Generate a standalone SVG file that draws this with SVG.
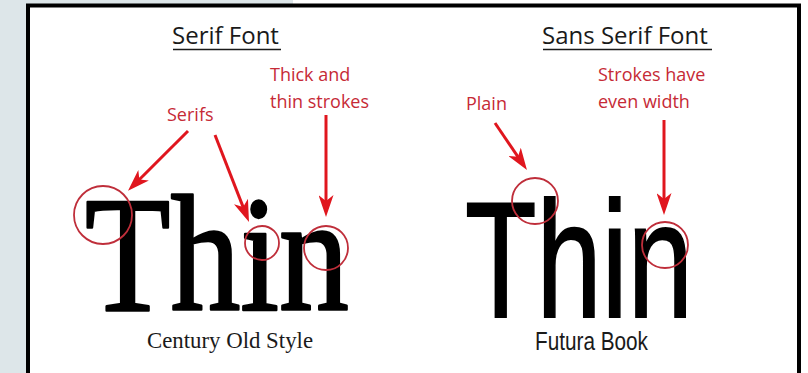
<svg xmlns="http://www.w3.org/2000/svg" width="808" height="373" viewBox="0 0 808 373">
  <style>
    .head { font-family: "Open Sans", "Liberation Sans", sans-serif; font-size: 24px; fill: #1a1a1a; }
    .lbl { font-family: "Open Sans", "Liberation Sans", sans-serif; font-size: 18px; fill: #c62a36; }
    .ring { fill: none; stroke: #bf2e3a; stroke-width: 1.8; }
    .arr { fill: none; stroke: #e0161e; stroke-width: 3; marker-end: url(#head); }
    .uline { stroke: #1a1a1a; stroke-width: 1.6; }
  </style>
  <defs>
    <marker id="head" viewBox="0 0 22 15" refX="13" refY="7.5" markerWidth="22" markerHeight="15" markerUnits="userSpaceOnUse" orient="auto">
      <path d="M0,0 L22,7.5 L0,15 L6,7.5 Z" fill="#e0161e"/>
    </marker>
  </defs>

  <!-- background -->
  <rect x="0" y="0" width="808" height="373" fill="#ffffff"/>
  <rect x="0" y="0" width="27" height="373" fill="#dde6e9"/>
  <rect x="0" y="0" width="293" height="4" fill="#dde6e9"/>
  <!-- panel -->
  <path d="M28,400 V5.5 H799 V400" fill="#ffffff" stroke="#000000" stroke-width="4"/>

  <!-- serif side -->
  <g id="serif-heading">
    <text class="head" x="172" y="43.5">Serif Font</text>
    <line class="uline" x1="173" y1="49.5" x2="281" y2="49.5"/>
  </g>
  <g id="serif-sample">
    <text x="85" y="310" font-family="'Liberation Serif', serif" font-size="166" fill="#000" stroke="#000" stroke-width="2.6" stroke-linejoin="round" textLength="264" lengthAdjust="spacingAndGlyphs">Thin</text>
    <text x="147" y="348" font-family="'Liberation Serif', serif" font-size="24" fill="#1a1a1a" textLength="166" lengthAdjust="spacingAndGlyphs">Century Old Style</text>
  </g>
  <g id="label-serifs">
    <text class="lbl" x="167" y="121">Serifs</text>
  </g>
  <g id="label-thick-thin">
    <text class="lbl" x="270" y="81">Thick and</text>
    <text class="lbl" x="270" y="107.5">thin strokes</text>
  </g>
  <g id="ring-serif-T"><circle class="ring" cx="103" cy="215" r="29"/></g>
  <g id="ring-serif-i"><circle class="ring" cx="262" cy="243" r="17"/></g>
  <g id="ring-serif-n"><circle class="ring" cx="326" cy="248" r="22"/></g>

  <!-- sans side -->
  <g id="sans-heading">
    <text class="head" x="542" y="43.5">Sans Serif Font</text>
    <line class="uline" x1="543" y1="49.5" x2="712" y2="49.5"/>
  </g>
  <g id="sans-sample">
    <text x="465" y="317" font-family="'Liberation Sans', sans-serif" font-size="165" fill="#000" stroke="#000" stroke-width="2" textLength="228" lengthAdjust="spacingAndGlyphs">Thin</text>
    <text x="535" y="350" font-family="'Liberation Sans', sans-serif" font-size="25" fill="#1a1a1a" textLength="113" lengthAdjust="spacingAndGlyphs">Futura Book</text>
  </g>
  <g id="label-plain">
    <text class="lbl" x="466" y="109.5">Plain</text>
  </g>
  <g id="label-even">
    <text class="lbl" x="598" y="81">Strokes have</text>
    <text class="lbl" x="598" y="107.5">even width</text>
  </g>
  <g id="ring-sans-T"><circle class="ring" cx="535" cy="201" r="23"/></g>
  <g id="ring-sans-n"><circle class="ring" cx="665" cy="245" r="23"/></g>

  <!-- connectors -->
  <g id="connectors">
    <path class="arr" d="M188,131 L134.4,184.5"/>
    <path class="arr" d="M215,135 L245.7,213.6"/>
    <path class="arr" d="M326,115 L326,208"/>
    <path class="arr" d="M495,123 L521.9,162.6"/>
    <path class="arr" d="M664,120 L664,206"/>
  </g>
</svg>
